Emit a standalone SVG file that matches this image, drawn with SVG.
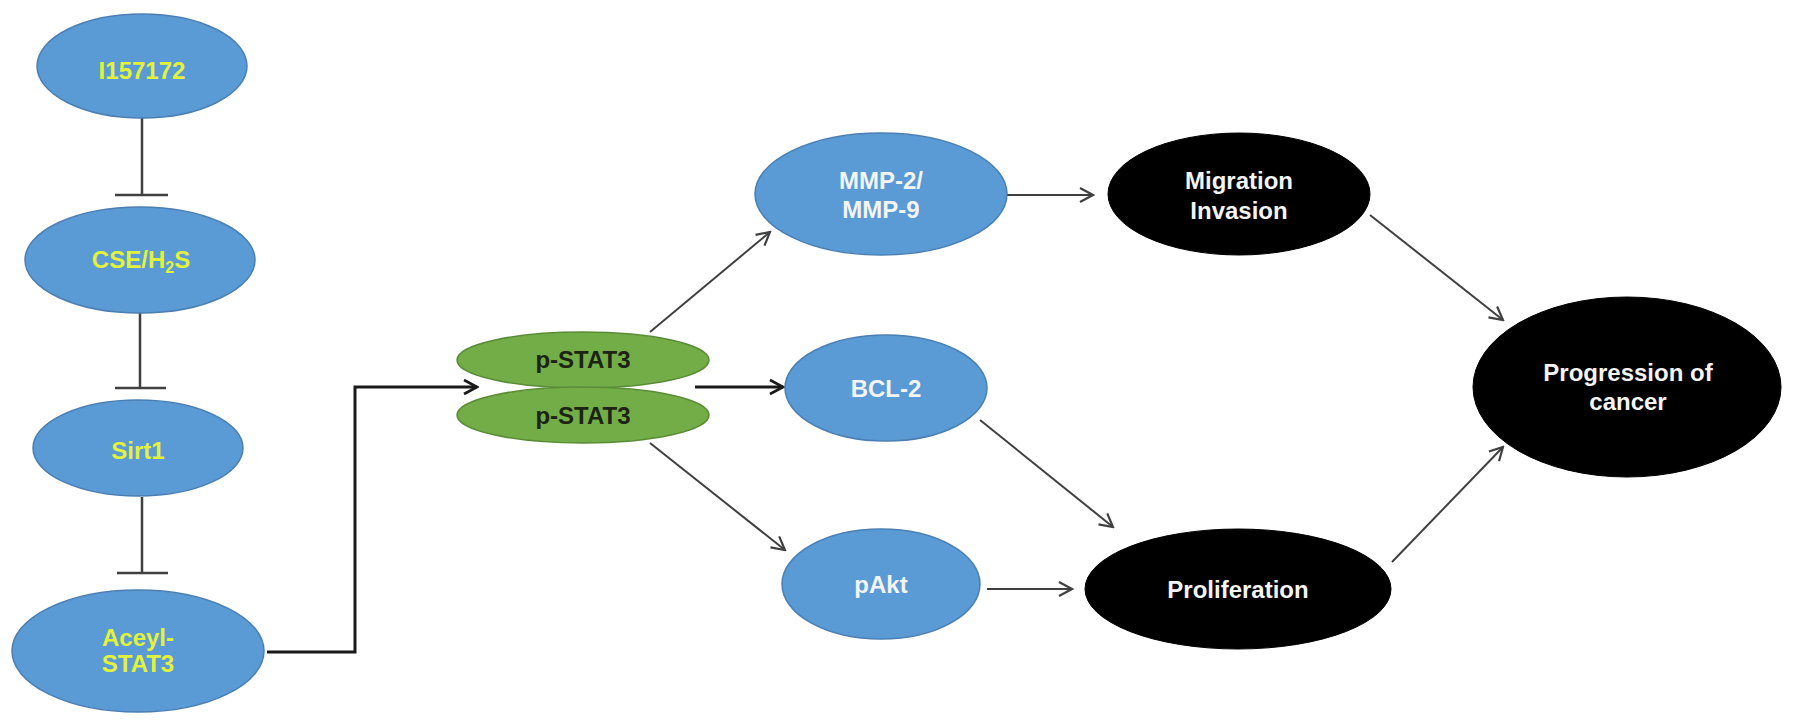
<svg xmlns="http://www.w3.org/2000/svg" width="1795" height="724" viewBox="0 0 1795 724">
<style>
  .blue { fill: #5b9bd5; stroke: #4a7fb3; stroke-width: 1.5; }
  .green { fill: #72ad47; stroke: #5a8c36; stroke-width: 1.5; }
  .black { fill: #000; stroke: #000; stroke-width: 1; }
  text { font-family: "Liberation Sans", Arial, sans-serif; font-weight: bold; font-size: 24px; text-anchor: middle; }
  .yel { fill: #e2f23a; }
  .wht { fill: #f4f4f4; }
  .dark { fill: #1c2414; }
  .inh { stroke: #404040; stroke-width: 2.5; fill: none; }
  .arr { stroke: #404040; stroke-width: 2; fill: none; marker-end: url(#ah); }
  .arrb { stroke: #1a1a1a; stroke-width: 3; fill: none; marker-end: url(#ahb); }
</style>
<defs>
  <marker id="ah" markerUnits="userSpaceOnUse" markerWidth="18" markerHeight="18" viewBox="0 0 18 18" refX="16" refY="9" orient="auto">
    <path d="M3,2 L16,9 L3,16" fill="none" stroke="#404040" stroke-width="2.2"/>
  </marker>
  <marker id="ahb" markerUnits="userSpaceOnUse" markerWidth="18" markerHeight="18" viewBox="0 0 18 18" refX="16" refY="9" orient="auto">
    <path d="M3,2 L16,9 L3,16" fill="none" stroke="#1a1a1a" stroke-width="2.6"/>
  </marker>
</defs>
<rect width="1795" height="724" fill="#fff"/>

<g id="connectors">
  <path class="inh" d="M142,118 V195 M115,195 H168"/>
  <path class="inh" d="M140,313 V388 M115,388 H166"/>
  <path class="inh" d="M142,497 V573 M117,573 H168"/>
  <polyline class="arrb" points="267,652 355,652 355,387 477,387"/>
  <line class="arr" x1="650" y1="332" x2="770" y2="232"/>
  <line class="arrb" x1="695" y1="387" x2="783" y2="387"/>
  <line class="arr" x1="650" y1="443" x2="785" y2="550"/>
  <line class="arr" x1="1007" y1="195" x2="1093" y2="195"/>
  <line class="arr" x1="980" y1="420" x2="1113" y2="527"/>
  <line class="arr" x1="987" y1="589" x2="1072" y2="589"/>
  <line class="arr" x1="1370" y1="215" x2="1503" y2="320"/>
  <line class="arr" x1="1392" y1="562" x2="1503" y2="447"/>
</g>

<g id="node-I157172">
  <ellipse class="blue" cx="142" cy="66" rx="105" ry="52"/>
  <text class="yel" x="142" y="79">I157172</text>
</g>
<g id="node-CSE">
  <ellipse class="blue" cx="140" cy="260" rx="115" ry="53"/>
  <text class="yel" x="141" y="268">CSE/H<tspan font-size="16" dy="5">2</tspan><tspan dy="-5">S</tspan></text>
</g>
<g id="node-Sirt1">
  <ellipse class="blue" cx="138" cy="448" rx="105" ry="48"/>
  <text class="yel" x="138" y="459">Sirt1</text>
</g>
<g id="node-Aceyl">
  <ellipse class="blue" cx="138" cy="651" rx="126" ry="61"/>
  <text class="yel" x="138" y="646">Aceyl-</text>
  <text class="yel" x="138" y="672">STAT3</text>
</g>
<g id="node-pSTAT3-top">
  <ellipse class="green" cx="583" cy="360" rx="126" ry="28"/>
  <text class="dark" x="583" y="368">p-STAT3</text>
</g>
<g id="node-pSTAT3-bottom">
  <ellipse class="green" cx="583" cy="415" rx="126" ry="28"/>
  <text class="dark" x="583" y="424">p-STAT3</text>
</g>
<g id="node-MMP">
  <ellipse class="blue" cx="881" cy="194" rx="126" ry="61"/>
  <text class="wht" x="881" y="189">MMP-2/</text>
  <text class="wht" x="881" y="218">MMP-9</text>
</g>
<g id="node-BCL2">
  <ellipse class="blue" cx="886" cy="388" rx="101" ry="53"/>
  <text class="wht" x="886" y="397">BCL-2</text>
</g>
<g id="node-pAkt">
  <ellipse class="blue" cx="881" cy="584" rx="99" ry="55"/>
  <text class="wht" x="881" y="593">pAkt</text>
</g>
<g id="node-Migration">
  <ellipse class="black" cx="1239" cy="194" rx="131" ry="61"/>
  <text class="wht" x="1239" y="189">Migration</text>
  <text class="wht" x="1239" y="219">Invasion</text>
</g>
<g id="node-Proliferation">
  <ellipse class="black" cx="1238" cy="589" rx="153" ry="60"/>
  <text class="wht" x="1238" y="598">Proliferation</text>
</g>
<g id="node-Progression">
  <ellipse class="black" cx="1627" cy="387" rx="154" ry="90"/>
  <text class="wht" x="1628" y="381">Progression of</text>
  <text class="wht" x="1628" y="410">cancer</text>
</g>
</svg>
